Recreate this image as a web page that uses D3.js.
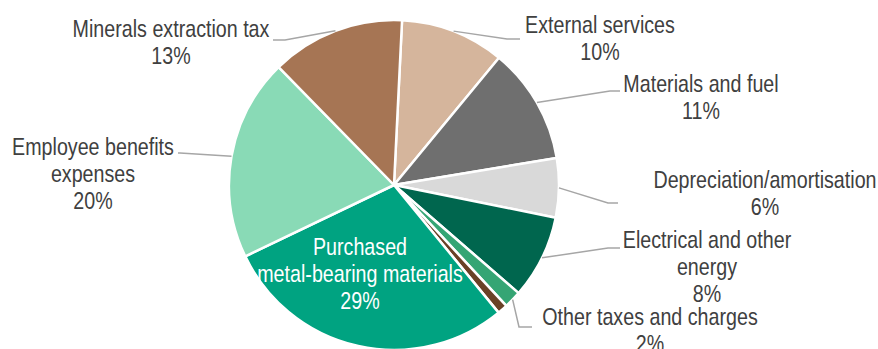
<!DOCTYPE html>
<html>
<head>
<meta charset="utf-8">
<script src="https://cdn.jsdelivr.net/npm/d3@7"></script>
<style>
  html, body { margin: 0; padding: 0; background: #ffffff; }
  svg { display: block; }
</style>
</head>
<body>
<svg id="chart" width="878" height="349"></svg>
<script>
// Cost structure shares, in percent, clockwise from the top
const categories = [
  "External services",
  "Materials and fuel",
  "Depreciation/amortisation",
  "Electrical and other energy",
  "Other taxes and charges",
  "Other costs",
  "Purchased metal-bearing materials",
  "Employee benefits expenses",
  "Minerals extraction tax"
];
const shares = [10.2, 11.4, 5.8, 8.2, 1.7, 1.0, 28.8, 19.8, 13.1];

// Label text lines (the percentage line is appended from the value)
const labelLines = [
  ["External services"],
  ["Materials and fuel"],
  ["Depreciation/amortisation"],
  ["Electrical and other", "energy"],
  ["Other taxes and charges"],
  null,
  ["Purchased", "metal-bearing materials"],
  ["Employee benefits", "expenses"],
  ["Minerals extraction tax"]
];

const colors = [
  "#D5B59C", "#6F6F6F", "#D9D9D9", "#00664E", "#35A574",
  "#6A4126", "#00A381", "#89DAB6", "#A67554"
];

// Label placement: text centre, first baseline, leader elbow and leader end
const labelLayout = [
  { x: 600, y: 33,  elbow: [507, 39],  end: [520, 39] },
  { x: 701, y: 92,  elbow: [610, 91],  end: [620, 91] },
  { x: 765, y: 188, elbow: [608, 203], end: [618, 203] },
  { x: 707, y: 248, elbow: [608, 248], end: [620, 248] },
  { x: 650, y: 325, elbow: [519, 327], end: [532, 327] },
  null,
  { x: 360, y: 255, inside: true },
  { x: 93,  y: 155, elbow: [180, 153], end: [178, 153] },
  { x: 171, y: 37,  elbow: [285, 40],  end: [273, 40] }
];

const cx = 394, cy = 185, radius = 165;
const startOffset = 2.8 * Math.PI / 180;
const lineHeight = 27;

const svg = d3.select("#chart");
const g = svg.append("g").attr("transform", `translate(${cx},${cy})`);

const data = categories.map((c, i) => ({ name: c, value: shares[i], i }));

const pie = d3.pie()
  .value(d => d.value)
  .sort(null)
  .startAngle(startOffset)
  .endAngle(startOffset + 2 * Math.PI);

const arc = d3.arc().innerRadius(0).outerRadius(radius);
const arcs = pie(data);

g.selectAll("path.slice")
  .data(arcs)
  .join("path")
  .attr("class", "slice")
  .attr("d", arc)
  .attr("fill", d => colors[d.data.i])
  .attr("stroke", "#ffffff")
  .attr("stroke-width", 2.5)
  .attr("stroke-linejoin", "round");

// Font: prefer a narrow sans; otherwise compress the regular one
const fontFamily = "'Liberation Sans Narrow', 'Arial Narrow', 'Liberation Sans', Arial, sans-serif";
function measure(family) {
  const t = svg.append("text").attr("font-family", family).attr("font-size", 24)
    .text("Minerals extraction tax");
  const w = t.node().getComputedTextLength();
  t.remove();
  return w;
}
const narrowW = measure(fontFamily);
const regularW = measure("'Liberation Sans', Arial, sans-serif");
const squeeze = narrowW / regularW > 0.95 ? 0.82 : 1;

const labelsLayer = svg.append("g");

arcs.forEach(a => {
  const i = a.data.i;
  const lay = labelLayout[i];
  const lines = labelLines[i];
  if (!lay || !lines) return;

  const allLines = lines.concat([Math.round(shares[i]) + "%"]);

  if (!lay.inside) {
    const mid = (a.startAngle + a.endAngle) / 2;
    const sx = cx + radius * Math.sin(mid);
    const sy = cy - radius * Math.cos(mid);
    labelsLayer.append("polyline")
      .attr("points", [[sx, sy], lay.elbow, lay.end].map(p => p.join(",")).join(" "))
      .attr("fill", "none")
      .attr("stroke", "#A6A6A6")
      .attr("stroke-width", 1.5);
  }

  const text = labelsLayer.append("text")
    .attr("font-family", fontFamily)
    .attr("font-size", 24)
    .attr("fill", lay.inside ? "#ffffff" : "#404040")
    .attr("text-anchor", "middle")
    .attr("transform", `translate(${lay.x},${lay.y}) scale(${squeeze},1)`);

  allLines.forEach((ln, k) => {
    text.append("tspan")
      .attr("x", 0)
      .attr("y", k * lineHeight)
      .text(ln);
  });
});
</script>
</body>
</html>
